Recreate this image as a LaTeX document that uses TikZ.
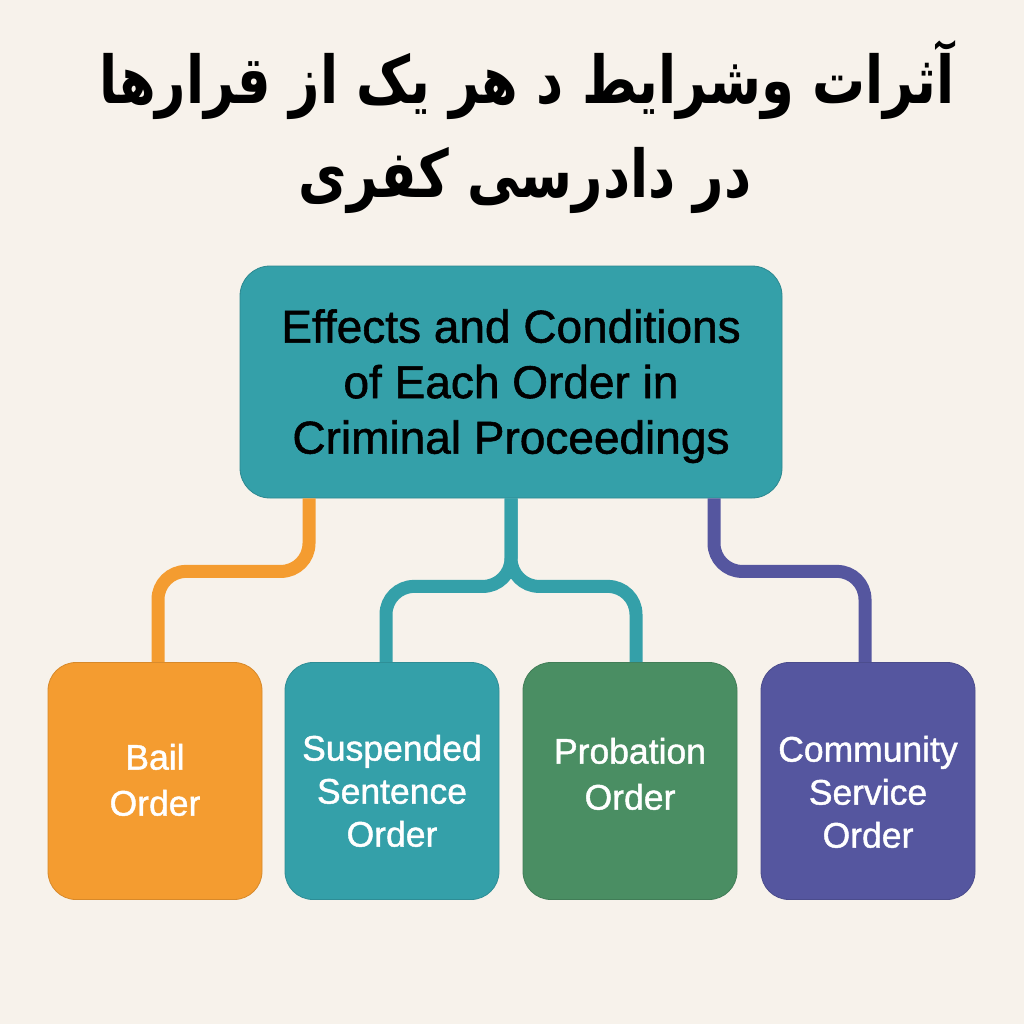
\documentclass[tikz,border=0pt]{standalone}
\usepackage{fontspec}
\setmainfont{Liberation Sans}
\newfontfamily\medfont[FakeBold=1.2]{Liberation Sans}
\newfontfamily\arabicfont[Script=Arabic]{DejaVu Sans}
\TeXXeTstate=1
\usetikzlibrary{positioning}
\definecolor{bgcol}{HTML}{F7F2EB}
\definecolor{tealc}{HTML}{34A0A9}
\definecolor{orangec}{HTML}{F49C30}
\definecolor{greenc}{HTML}{4A8E63}
\definecolor{purplec}{HTML}{55569F}
\newcommand{\boxlines}[2]{\raisebox{#1}[\height][\depth]{\begin{tabular}{@{}c@{}}#2\end{tabular}}}

\begin{document}
\begin{tikzpicture}[x=1pt,y=-1pt,
	mainbox/.style={fill=tealc,draw=tealc!85!black,line width=0.8pt,rounded corners=30pt,
		minimum width=542pt,minimum height=232pt,align=center,text=black,
		font=\medfont\fontsize{46}{55.5}\selectfont},
	orderbox/.style={fill=#1,draw=#1!88!black,line width=0.8pt,rounded corners=28pt,
		minimum width=214pt,minimum height=237pt,align=center,text=white,
		font=\medfont\fontsize{35.5}{43}\selectfont},
	titletext/.style={font=\arabicfont\bfseries\fontsize{66}{70}\selectfont},
	link/.style={draw=#1,line width=13pt,rounded corners=28pt}]
	\fill[bgcol] (0,0) rectangle (1024,1024);
	\useasboundingbox (0,0) rectangle (1024,1024);
	\node[titletext] (title1) at (527,80) {\scalebox{0.8}[1]{\beginR آثرات وشرایط د هر یک از قرارها\endR}};
	\node[titletext] (title2) at (525,180) {\scalebox{0.8}[1]{\beginR در دادرسی کفری\endR}};
	\node[mainbox] (main) at (511,382) {\boxlines{-5pt}{Effects and Conditions\\of Each Order in\\Criminal Proceedings}};
	\node[orderbox=orangec] (bail) at (155,781) {\boxlines{-3pt}{Bail\\[3pt]Order}};
	\node[orderbox=tealc] (susp) at (392,781) {\boxlines{-14pt}{Suspended\\Sentence\\Order}};
	\node[orderbox=greenc] (prob) at (630,781) {\boxlines{3pt}{Probation\\[3pt]Order}};
	\node[orderbox=purplec] (comm) at (868,781) {\boxlines{-15pt}{Community\\Service\\Order}};
	\draw[link=orangec] ([xshift=-202pt]main.south) -- ++(0,73) -| ([xshift=3pt]bail.north);
	\draw[link=tealc] (main.south) -- ++(0,88) -| ([xshift=-6pt]susp.north);
	\draw[link=tealc] (main.south) -- ++(0,88) -| ([xshift=6pt]prob.north);
	\draw[link=purplec] ([xshift=203pt]main.south) -- ++(0,73) -| ([xshift=-3pt]comm.north);
\end{tikzpicture}
\end{document}
